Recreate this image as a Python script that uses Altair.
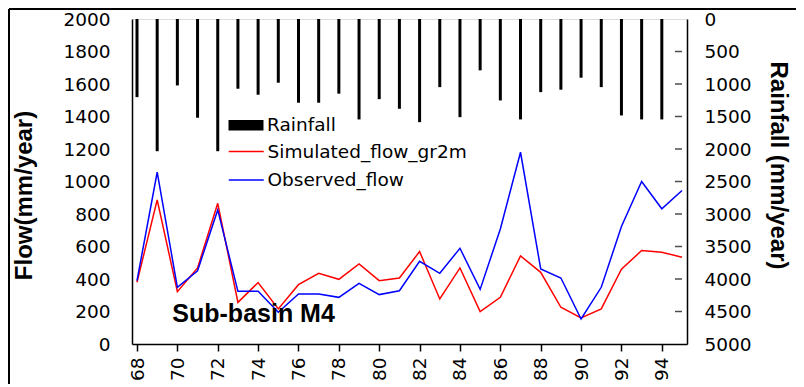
import altair as alt
import pandas as pd

FONT = "DejaVu Sans"
BOLD_FONT = "Liberation Sans"

years = list(range(68, 96))
rain_years = list(range(68, 95))
rainfall = [1202, 2034, 1022, 1519, 2034, 1073, 1165, 980, 1288, 1288, 1149, 1545, 1233, 1381,
            1587, 1048, 1510, 790, 1253, 1545, 1125, 1088, 903, 1048, 1484, 1545, 1545]
simulated = [380, 887, 322, 468, 866, 256, 378, 216, 365, 435, 398, 493, 390, 406,
             569, 277, 468, 199, 287, 542, 441, 226, 160, 216, 460, 575, 565, 534]
observed = [390, 1057, 349, 451, 825, 324, 324, 195, 308, 308, 287, 373, 304, 328,
            509, 435, 589, 336, 708, 1180, 462, 406, 154, 349, 723, 1000, 832, 945]

series_names = ["Rainfall", "Simulated_flow_gr2m", "Observed_flow"]
series_colors = ["black", "red", "blue"]
flow_ticks = list(range(0, 2001, 200))
rain_ticks = list(range(0, 5001, 500))
inner_rain_ticks = list(range(500, 5000, 500))
year_ticks = list(range(68, 95, 2))
note_label = ["Sub-basin M4"]
note_x = [69.75]
note_y = [133]

rain_df = pd.DataFrame({"year": rain_years, "rain": rainfall, "zero": 0, "series": series_names[0]})
flow_df = pd.DataFrame({
    "year": years + years,
    "flow": simulated + observed,
    "series": [series_names[1]] * len(years) + [series_names[2]] * len(years),
})
tick_df = pd.DataFrame({"year": [95] * len(inner_rain_ticks), "rain": inner_rain_ticks})
note_df = pd.DataFrame({"year": note_x, "flow": note_y, "label": note_label})
one = pd.DataFrame({"a": [0]})

LABEL_SIZE = 18.5

xscale = alt.Scale(domain=[68, 95], nice=False, zero=False)
xaxis = alt.Axis(values=year_ticks, title=None, labelAngle=270, tickSize=7, labelPadding=6,
                 labelFontSize=LABEL_SIZE, labelFont=FONT, labelColor="black", domainColor="black",
                 domainWidth=1.5, tickColor="black", tickWidth=1.5, grid=False, format="d")
flow_scale = alt.Scale(domain=[0, 2000], nice=False, zero=True)
flow_axis = alt.Axis(values=flow_ticks, title="Flow(mm/year)", orient="left", ticks=False,
                     labelPadding=22, grid=False, labelFontSize=LABEL_SIZE, labelFont=FONT,
                     labelColor="black", domainColor="black", domainWidth=1.5, format="d",
                     titleFont=BOLD_FONT, titleFontSize=24, titleFontWeight="bold", titleColor="black",
                     titlePadding=26, titleY=176)
rain_scale = alt.Scale(domain=[0, 5000], nice=False, reverse=True)
rain_axis = alt.Axis(values=rain_ticks, title="Rainfall (mm/year)", orient="right", ticks=False,
                     labelPadding=17, grid=False, labelFontSize=LABEL_SIZE, labelFont=FONT,
                     labelColor="black", domainColor="black", domainWidth=1.5, format="d",
                     titleFont=BOLD_FONT, titleFontSize=24, titleFontWeight="bold", titleColor="black",
                     titlePadding=14, titleAngle=90, titleY=146)

rain_legend = alt.Legend(title=None, orient="none", legendX=104.75, legendY=97,
                         symbolType="M-2,-0.6H2V0.6H-2Z", symbolSize=306,
                         labelFontSize=LABEL_SIZE, labelFont=FONT, labelColor="black",
                         labelOffset=11.75, padding=0, symbolStrokeWidth=0, labelLimit=0)
line_legend = alt.Legend(title=None, orient="none", legendX=104.75, legendY=123,
                         symbolType="M-2,0H2", symbolSize=306, symbolStrokeWidth=1.5,
                         labelFontSize=LABEL_SIZE, labelFont=FONT, labelColor="black",
                         labelOffset=11.75, padding=0, rowPadding=9.5, labelLimit=0)

bars = alt.Chart(rain_df).mark_bar(size=3, strokeWidth=0).encode(
    x=alt.X("year:Q", scale=xscale, axis=xaxis),
    y=alt.Y("rain:Q", scale=rain_scale, axis=rain_axis),
    y2="zero:Q",
    color=alt.Color("series:N", scale=alt.Scale(domain=series_names[:1], range=series_colors[:1]),
                    legend=rain_legend),
)
inner_ticks = alt.Chart(tick_df).mark_tick(orient="horizontal", size=7, xOffset=-3.5,
                                           thickness=1.5, color="black").encode(
    x=alt.X("year:Q", scale=xscale, axis=xaxis),
    y=alt.Y("rain:Q", scale=rain_scale, axis=rain_axis),
)
rain_layer = alt.layer(bars, inner_ticks)

lines = alt.Chart(flow_df).mark_line(strokeWidth=1.5).encode(
    x=alt.X("year:Q", scale=xscale, axis=xaxis),
    y=alt.Y("flow:Q", scale=flow_scale, axis=flow_axis),
    color=alt.Color("series:N", scale=alt.Scale(domain=series_names[1:], range=series_colors[1:]),
                    legend=line_legend),
)
note = alt.Chart(note_df).mark_text(align="left", baseline="alphabetic", fontSize=25,
                                    fontWeight="bold", font=BOLD_FONT, color="black").encode(
    x=alt.X("year:Q", scale=xscale, axis=xaxis),
    y=alt.Y("flow:Q", scale=flow_scale, axis=flow_axis),
    text="label:N",
)
frame_top = alt.Chart(one).mark_rule(color="black", strokeWidth=2).encode(
    x=alt.value(-123), x2=alt.value(700), y=alt.value(-10))
frame_left = alt.Chart(one).mark_rule(color="black", strokeWidth=2).encode(
    x=alt.value(-123), y=alt.value(-10), y2=alt.value(400))
flow_layer = alt.layer(lines, note, frame_top, frame_left)

chart = alt.layer(flow_layer, rain_layer).resolve_scale(y="independent", color="independent").properties(
    width=555, height=325,
    autosize=alt.AutoSizeParams(type="none"),
    padding={"left": 124, "top": 11, "right": 109, "bottom": 40},
).configure_view(stroke="black", strokeWidth=1.5).configure(background="white")

chart.save("out.html", embed_options={"renderer": "svg", "actions": False})
